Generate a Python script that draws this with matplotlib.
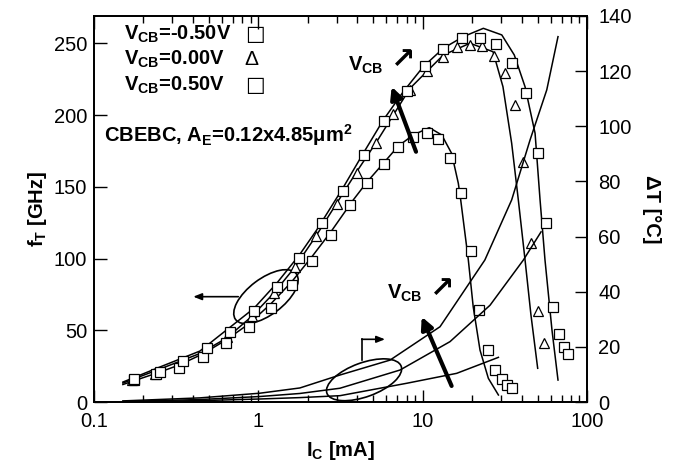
import numpy as np
import matplotlib.pyplot as plt
from matplotlib.patches import Ellipse
from matplotlib.transforms import ScaledTranslation
from matplotlib.ticker import FixedLocator, FixedFormatter, LogLocator, NullFormatter

plt.rcParams['font.family'] = ['Liberation Sans', 'DejaVu Sans']
plt.rcParams['mathtext.fontset'] = 'custom'
plt.rcParams['mathtext.rm'] = 'Liberation Sans'
plt.rcParams['mathtext.bf'] = 'Liberation Sans:bold'
plt.rcParams['mathtext.it'] = 'Liberation Sans:italic'

# measured fT points (IC in mA, fT in GHz)
ic_m050 = [0.175, 0.24, 0.330, 0.459, 0.636, 0.874, 1.189, 1.597, 2.121, 2.768,
           3.6, 4.60, 5.82, 7.11, 8.77, 10.58, 12.35, 14.67, 17.04, 19.6,
           22.12, 24.98, 27.67, 30.4, 32.7, 35.0]
ft_m050 = [15.2, 19.5, 23.9, 31.6, 40.9, 52.1, 65.7, 81.5, 98.5, 116.4,
           137.0, 152.4, 165.9, 177.5, 184.5, 187.3, 183.1, 169.8, 145.9, 105.0,
           64.1, 36.2, 22.3, 15.8, 11.8, 10.0]

ic_000 = [0.17, 0.235, 0.33, 0.46, 0.642, 0.911, 1.245, 1.672, 2.244, 3.0,
          3.968, 5.20, 6.63, 8.375, 10.58, 13.35, 16.11, 19.41, 22.87, 27.17,
          31.7, 36.5, 40.6, 45.5, 50.3, 54.5]
ft_000 = [15.0, 19.3, 25.6, 33.0, 45.5, 59.9, 76.2, 94.3, 115.9, 138.0,
          159.4, 180.7, 200.5, 217.4, 230.9, 240.6, 247.2, 248.8, 248.1, 241.1,
          229.5, 207.0, 167.5, 111.0, 63.6, 41.3]

ic_p050 = [0.175, 0.252, 0.347, 0.485, 0.672, 0.941, 1.293, 1.776, 2.43, 3.262,
           4.395, 5.844, 7.997, 10.33, 13.35, 17.28, 22.33, 27.94, 34.83, 42.55,
           50.1, 56.0, 62.4, 67.5, 72.4, 76.3]
ft_p050 = [16.0, 21.1, 28.6, 37.4, 49.0, 63.6, 80.4, 100.6, 124.5, 147.3,
           172.1, 195.8, 216.7, 234.2, 246.0, 253.5, 253.5, 249.3, 236.0, 215.1,
           173.7, 125.0, 66.4, 47.4, 38.5, 33.2]

# simulated fT curves
sim_ic_m050 = [0.150, 0.252, 0.330, 0.459, 0.636, 0.874, 1.189, 1.597, 2.121, 2.768,
               3.78, 4.60, 5.76, 7.11, 8.77, 10.97, 13.06, 15.0, 16.48, 17.04,
               18.96, 20.3, 22.33, 25.1, 28.9]
sim_ft_m050 = [12.2, 20.9, 25.8, 33.5, 43.2, 54.4, 68.3, 83.8, 101.3, 118.7,
               140.8, 153.5, 166.3, 178.4, 186.1, 191.2, 186.1, 173.3, 152.4, 140.8,
               99.0, 66.4, 36.2, 16.5, 4.9]

sim_ic_000 = [0.150, 0.252, 0.441, 0.642, 0.911, 1.245, 1.672, 2.244, 3.968, 5.25,
              8.375, 13.35, 19.41, 26.8, 30.8, 34.8, 38.2, 41.97, 45.6, 50.1]
sim_ft_000 = [13.2, 23.0, 33.8, 44.6, 59.6, 76.0, 94.1, 115.7, 160.5, 181.4,
              218.6, 241.8, 250.0, 244.1, 219.7, 180.3, 140.8, 99.0, 60.6, 23.5]

sim_ic_p050 = [0.150, 0.252, 0.441, 0.941, 1.293, 1.776, 2.266, 3.262, 4.35, 5.76,
               7.62, 10.09, 13.35, 17.67, 23.4, 30.3, 36.1, 41.97, 48.3, 51.8,
               55.5, 61.2, 66.6]
sim_ft_p050 = [13.9, 24.4, 35.5, 65.3, 82.7, 102.4, 119.9, 148.9, 173.3, 196.5,
               216.2, 233.7, 246.5, 254.6, 260.4, 255.8, 241.8, 219.7, 187.3, 140.8,
               99.0, 50.2, 15.3]

# simulated self-heating (deg C)
dt_ic_p050 = [0.150, 0.441, 1.024, 1.79, 3.14, 6.33, 12.75, 23.9, 34.8, 45.0, 56.9, 66.6]
dt_p050 = [0.4, 1.5, 3.2, 5.1, 9.8, 15.2, 27.3, 51.5, 73.3, 95.0, 113.2, 132.5]

dt_ic_000 = [0.150, 0.441, 1.024, 1.79, 3.14, 7.28, 14.67, 25.7, 41.0, 52.5]
dt_000 = [0.2, 0.9, 2.0, 3.1, 5.0, 11.6, 21.9, 35.1, 51.5, 61.7]

dt_ic_m050 = [0.150, 0.441, 1.024, 1.79, 3.14, 8.0, 16.1, 28.9]
dt_m050 = [0.1, 0.5, 1.1, 1.6, 2.3, 6.8, 10.4, 16.2]

fig = plt.figure(figsize=(6.78, 4.66), dpi=100)
ax = fig.add_axes([0.1386, 0.1373, 0.7272, 0.8284])
ax2 = ax.twinx()

lw = 1.1
ax.plot(sim_ic_m050, sim_ft_m050, color='black', lw=lw)
ax.plot(sim_ic_000, sim_ft_000, color='black', lw=lw)
ax.plot(sim_ic_p050, sim_ft_p050, color='black', lw=lw)

mk = dict(linestyle='none', mfc='white', mec='black', mew=0.9)
ax.plot(ic_000, ft_000, marker='^', ms=6.5, **mk)
ax.plot(ic_m050, ft_m050, marker='s', ms=7, **mk)
ax.plot(ic_p050, ft_p050, marker='s', ms=7, **mk)

ax2.plot(dt_ic_p050, dt_p050, color='black', lw=lw)
ax2.plot(dt_ic_000, dt_000, color='black', lw=lw)
ax2.plot(dt_ic_m050, dt_m050, color='black', lw=lw)

ax.set_xscale('log')
ax.set_xlim(0.1, 100)
ax.set_ylim(0, 269)
ax2.set_ylim(0, 140)

ax.xaxis.set_major_locator(FixedLocator([0.1, 1, 10, 100]))
ax.xaxis.set_major_formatter(FixedFormatter(['0.1', '1', '10', '100']))
ax.xaxis.set_minor_locator(LogLocator(base=10, subs=np.arange(2, 10)))
ax.xaxis.set_minor_formatter(NullFormatter())
ax.set_yticks(np.arange(0, 251, 50))
ax2.set_yticks(np.arange(0, 141, 20))

fs = 14.5
ax.tick_params(axis='x', which='both', direction='in', top=True, pad=7, labelsize=fs)
ax.tick_params(axis='x', which='major', length=9, width=1)
ax.tick_params(axis='x', which='minor', length=5, width=1)
ax.tick_params(axis='y', direction='in', length=9, width=1, pad=5, labelsize=fs)
ax2.tick_params(axis='y', direction='in', length=9, width=1, pad=8, labelsize=fs)
for a in (ax, ax2):
    for s in a.spines.values():
        s.set_linewidth(1.3)

ax.set_xlabel(r'I$_{\mathbf{C}}$ [mA]', fontsize=fs, fontweight='bold', labelpad=6)
ax.set_ylabel(r'f$_{\mathbf{T}}$ [GHz]', fontsize=fs, fontweight='bold', labelpad=3)
ax2.set_ylabel('ΔT [°C]', fontsize=fs, fontweight='bold', rotation=-90, labelpad=21)

# key for the measured symbols
keys = [(r'V$_{\mathbf{CB}}$=-0.50V', '□'), (r'V$_{\mathbf{CB}}$=0.00V', 'Δ'),
        (r'V$_{\mathbf{CB}}$=0.50V', '□')]
for i, (txt, sym) in enumerate(keys):
    yy = 0.953 - i * 0.066
    ax.text(0.061, yy, txt, transform=ax.transAxes, fontsize=fs, fontweight='bold',
            va='center', ha='left')
    ax.text(0.306, yy, sym, transform=ax.transAxes, fontsize=15,
            family=['DejaVu Sans'] if sym == '□' else ['Liberation Sans'],
            va='center', ha='left')

ax.text(0.02, 0.692, r'CBEBC, A$_{\mathbf{E}}$=0.12x4.85μm$^{\mathbf{2}}$',
        transform=ax.transAxes, fontsize=fs, fontweight='bold', va='center', ha='left')

ax.text(0.515, 0.873, r'V$_{\mathbf{CB}}$', transform=ax.transAxes, fontsize=fs,
        fontweight='bold', va='center', ha='left')
ax.text(0.603, 0.885, '↗', transform=ax.transAxes, fontsize=21,
        family=['DejaVu Sans'], fontweight='bold', va='center', ha='left')
ax.text(0.594, 0.282, r'V$_{\mathbf{CB}}$', transform=ax.transAxes, fontsize=fs,
        fontweight='bold', va='center', ha='left')
ax.text(0.682, 0.292, '↗', transform=ax.transAxes, fontsize=21,
        family=['DejaVu Sans'], fontweight='bold', va='center', ha='left')

# thick arrows showing the VCB trend
big = dict(arrowstyle='-|>,head_length=0.7,head_width=0.35', lw=3, color='black',
           shrinkA=0, shrinkB=0)
ax.annotate('', xy=(6.48, 219.7), xytext=(9.11, 174.4), arrowprops=big)
ax.annotate('', xy=(9.87, 59.4), xytext=(15.0, 11.2), arrowprops=big)

# ellipses grouping the curves
def ring(x, y, w, h, ang):
    tr = fig.dpi_scale_trans + ScaledTranslation(x, y, ax.transData)
    ax.add_patch(Ellipse((0, 0), w, h, angle=ang, transform=tr, fill=False,
                         color='black', lw=1.2))

ring(1.113, 73.4, 0.76, 0.36, 37)
ring(4.40, 15.5, 0.79, 0.34, 20)

thin = dict(arrowstyle='-|>,head_length=0.5,head_width=0.2', lw=1.2, color='black',
            shrinkA=0, shrinkB=0)
ax.annotate('', xy=(0.402, 73.4), xytext=(0.755, 73.4), arrowprops=thin)
ax.plot([4.26, 4.26], [29.3, 43.7], color='black', lw=1.2)
ax.annotate('', xy=(5.90, 43.7), xytext=(4.26, 43.7), arrowprops=thin)

fig.savefig('out.png', dpi=100)
